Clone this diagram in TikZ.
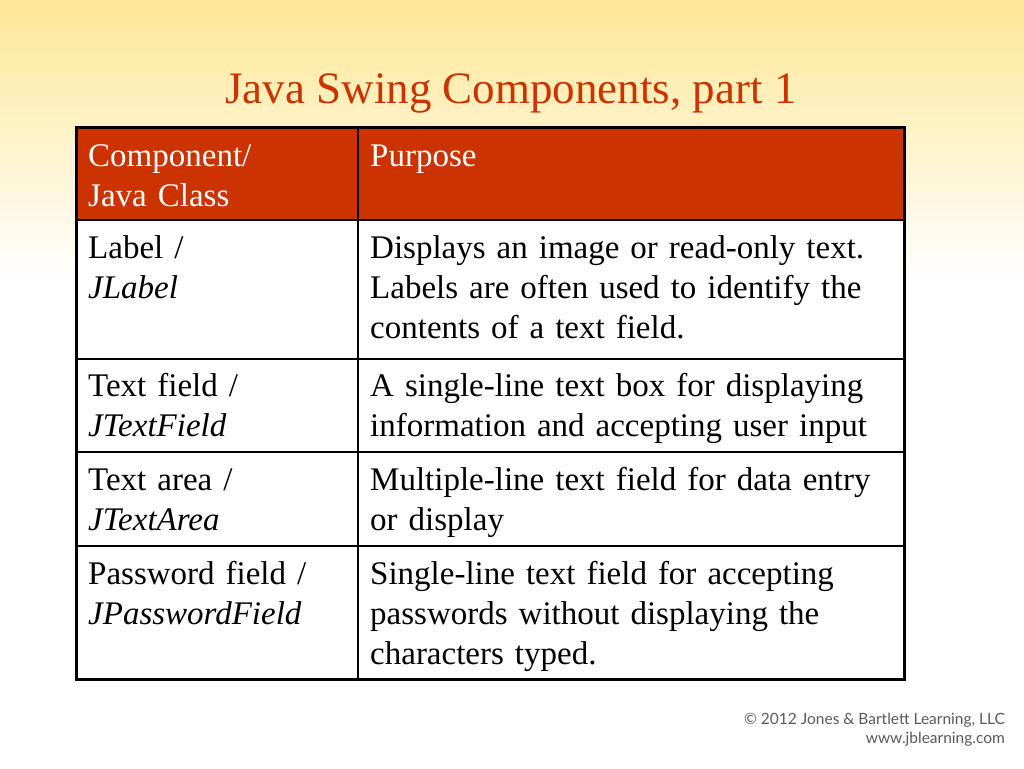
\documentclass[tikz,border=0pt]{standalone}
\usepackage{fontspec}
\setmainfont{Liberation Serif}
\newfontfamily\notefont{Lato}
\usetikzlibrary{positioning}
\definecolor{slidered}{RGB}{204,51,0}
\definecolor{slideyellow}{RGB}{253,231,150}
\definecolor{notegray}{RGB}{90,90,90}
\newcommand\cellfont{\fontsize{33}{40}\selectfont}

\begin{document}
\begin{tikzpicture}[x=1pt,y=-1pt,
    frame/.style={draw=black,line width=3pt},
    gridline/.style={draw=black,line width=1.5pt},
    cellleft/.style={anchor=base west,inner sep=0pt,align=left,text width=262pt},
    cellright/.style={anchor=base west,inner sep=0pt,align=left,text width=530pt},
    headcell/.style={text=white}]
% page and background
\useasboundingbox (0,0) rectangle (1024,768);
\fill[white] (0,0) rectangle (1024,768);
\shade[top color=slideyellow,bottom color=white] (0,0) rectangle (1024,280);

% title
\node[anchor=base,inner sep=0pt,text=slidered,font=\fontsize{45}{54}\selectfont]
    (title) at (511,103) {Java Swing Components, part 1};

% table
\coordinate (tl) at (76,127);
\coordinate (br) at (904,679);
\fill[slidered] (tl) rectangle (904,220);
\fill[white] (76,220) rectangle (br);
\foreach \y in {220,359,452,546}
    \draw[gridline] (76,\y) -- (904,\y);
\draw[gridline] (358,127) -- (358,679);
\draw[frame] (tl) rectangle (br);

\begin{scope}[every node/.style={font=\cellfont}]
    \node[cellleft,headcell] (hcomp) at (88,166) {Component/\\Java Class};
    \node[cellright,headcell] (hpurp) at (370,166) {Purpose};
    \node[cellleft] (label) at (88,258) {Label /\\\textit{JLabel}};
    \node[cellright] (labeltxt) at (370,258)
        {Displays an image or read-only text.\\Labels are often used to identify the\\contents of a text field.};
    \node[cellleft] (field) at (88,396) {Text field /\\\textit{JTextField}};
    \node[cellright] (fieldtxt) at (370,396)
        {A single-line text box for displaying\\information and accepting user input};
    \node[cellleft] (area) at (88,490) {Text area /\\\textit{JTextArea}};
    \node[cellright] (areatxt) at (370,490)
        {Multiple-line text field for data entry\\or display};
    \node[cellleft] (pass) at (88,584) {Password field /\\\textit{JPasswordField}};
    \node[cellright] (passtxt) at (370,584)
        {Single-line text field for accepting\\passwords without displaying the\\characters typed.};
\end{scope}

% copyright note
\node[anchor=base east,inner sep=0pt,align=right,text=notegray,
      font=\notefont\fontsize{15.5}{19}\selectfont]
    (note) at (1005,743) {© 2012 Jones \& Bartlett Learning, LLC\\www.jblearning.com};
\end{tikzpicture}
\end{document}
